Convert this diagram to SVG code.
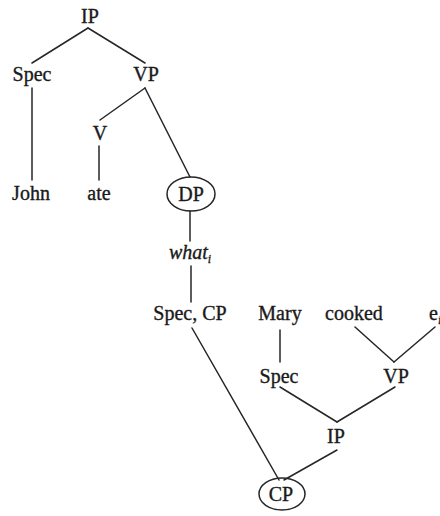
<svg xmlns="http://www.w3.org/2000/svg" width="440" height="516" viewBox="0 0 440 516">
  <style>
    .lbl { font-family: "Liberation Serif", "Times New Roman", serif; font-size: 20px; fill: #1a1a1a; stroke: #1a1a1a; stroke-width: 0.35; text-anchor: middle; }
    .it { font-style: italic; }
    .sub { font-size: 12px; }
    .edge { stroke: #262626; stroke-width: 1.5; fill: none; stroke-linecap: round; }
    .ring { stroke: #262626; stroke-width: 1.5; fill: none; }
  </style>
  <rect width="440" height="516" fill="#ffffff"/>

  <!-- tree branches -->
  <g id="connectors">
    <line class="edge" x1="88" y1="28" x2="32" y2="63"/>
    <line class="edge" x1="88" y1="28" x2="145" y2="63"/>
    <line class="edge" x1="32" y1="88" x2="32" y2="180"/>
    <line class="edge" x1="145" y1="88" x2="100" y2="120"/>
    <line class="edge" x1="145" y1="88" x2="190" y2="177"/>
    <line class="edge" x1="99" y1="146" x2="99" y2="180"/>
    <line class="edge" x1="190" y1="211" x2="190" y2="241"/>
    <line class="edge" x1="191" y1="266" x2="191" y2="302"/>
    <line class="edge" x1="192" y1="328" x2="279" y2="480"/>
    <line class="edge" x1="280" y1="330" x2="280" y2="362"/>
    <line class="edge" x1="355" y1="327" x2="394" y2="362"/>
    <line class="edge" x1="435" y1="327" x2="394" y2="362"/>
    <line class="edge" x1="280" y1="387" x2="337" y2="422"/>
    <line class="edge" x1="395" y1="387" x2="337" y2="422"/>
    <line class="edge" x1="337" y1="450" x2="284" y2="480"/>
  </g>

  <!-- matrix clause -->
  <g id="ip-top"><text class="lbl" x="90" y="23">IP</text></g>
  <g id="spec-top"><text class="lbl" x="32" y="81">Spec</text></g>
  <g id="vp-top"><text class="lbl" x="146" y="81">VP</text></g>
  <g id="v"><text class="lbl" x="100" y="140">V</text></g>
  <g id="john"><text class="lbl" x="31" y="200">John</text></g>
  <g id="ate"><text class="lbl" x="99" y="200">ate</text></g>
  <g id="dp">
    <ellipse class="ring" cx="191" cy="194" rx="24" ry="17"/>
    <text class="lbl" x="191" y="201">DP</text>
  </g>
  <g id="what"><text class="lbl it" x="190" y="259">what<tspan class="sub" dy="4">i</tspan></text></g>

  <!-- relative clause -->
  <g id="spec-cp"><text class="lbl" x="190" y="320">Spec, CP</text></g>
  <g id="mary"><text class="lbl" x="280" y="320">Mary</text></g>
  <g id="cooked"><text class="lbl" x="354" y="320">cooked</text></g>
  <g id="trace"><text class="lbl" x="429" y="320" style="text-anchor:start">e<tspan class="sub it" dy="4">i</tspan></text></g>
  <g id="spec-low"><text class="lbl" x="279" y="383">Spec</text></g>
  <g id="vp-low"><text class="lbl" x="396" y="383">VP</text></g>
  <g id="ip-low"><text class="lbl" x="336" y="443">IP</text></g>
  <g id="cp">
    <ellipse class="ring" cx="282" cy="494" rx="23" ry="16"/>
    <text class="lbl" x="281" y="501">CP</text>
  </g>
</svg>
